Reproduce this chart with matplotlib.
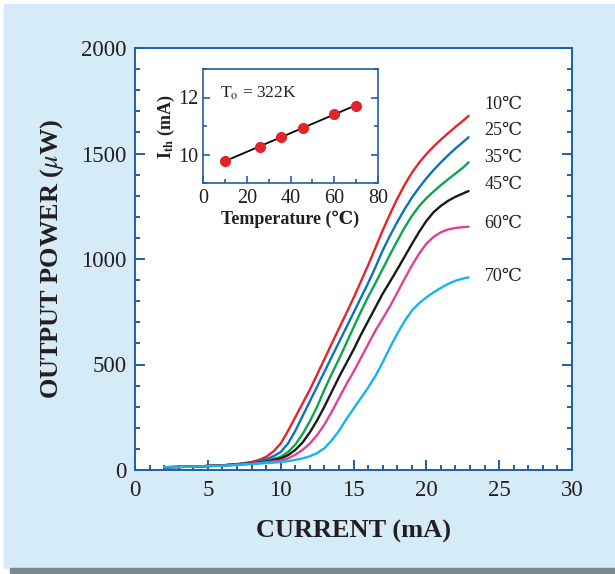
import numpy as np
import matplotlib
matplotlib.use('Agg')
import matplotlib.pyplot as plt
from matplotlib.patches import Rectangle
from matplotlib.ticker import MultipleLocator

# ---- data ----
temps = ['10℃', '25℃', '35℃', '45℃', '60℃', '70℃']
colors = ['#e3242b', '#0a72c2', '#0aa550', '#1a1a1a', '#e0409a', '#14b4ec']

# drive current (mA), shared by all curves
current = [2, 4, 6, 7, 8, 8.5, 9, 9.5, 10, 10.5, 11, 11.5, 12, 12.5, 13, 13.5, 14, 14.5,
           15, 15.5, 16, 16.5, 17, 17.5, 18, 18.5, 19, 19.5, 20, 20.5, 21, 21.5, 22, 22.5, 22.9]

# output power (uW)
pow_10 = [13, 16, 22, 28, 38, 47, 62, 88, 125, 185, 250, 315, 380, 452, 525, 598, 670, 742,
          815, 892, 970, 1052, 1135, 1212, 1285, 1350, 1408, 1456, 1497, 1533, 1566, 1596, 1626, 1654, 1678]
pow_25 = [13, 16, 22, 27, 34, 40, 50, 65, 85, 125, 185, 255, 325, 395, 465, 535, 605, 675,
          745, 815, 885, 960, 1040, 1110, 1175, 1235, 1290, 1338, 1382, 1422, 1458, 1492, 1524, 1553, 1577]
pow_35 = [13, 16, 22, 27, 32, 37, 42, 52, 62, 85, 120, 170, 230, 300, 380, 455, 525, 600,
          675, 750, 820, 885, 952, 1020, 1085, 1148, 1203, 1250, 1288, 1320, 1350, 1378, 1405, 1432, 1458]
pow_45 = [13, 16, 22, 26, 31, 35, 40, 47, 55, 70, 95, 130, 178, 235, 300, 370, 440, 505,
          570, 640, 705, 770, 835, 892, 950, 1010, 1070, 1128, 1180, 1222, 1252, 1276, 1295, 1310, 1322]
pow_60 = [13, 16, 21, 25, 30, 33, 37, 41, 45, 55, 72, 95, 125, 165, 215, 275, 340, 405,
          465, 530, 595, 660, 717, 775, 840, 905, 968, 1025, 1072, 1105, 1127, 1140, 1147, 1151, 1153]
pow_70 = [13, 16, 20, 24, 28, 30, 33, 35, 38, 42, 48, 55, 65, 80, 103, 140, 185, 240,
          290, 340, 390, 445, 510, 580, 645, 705, 755, 790, 818, 842, 863, 882, 897, 907, 913]

powers = [pow_10, pow_25, pow_35, pow_45, pow_60, pow_70]

# inset: threshold current vs temperature
t_inset = [10, 26, 35.5, 45.5, 60, 70]
ith_inset = [9.76, 10.28, 10.62, 10.92, 11.43, 11.71]

label_y = [1730, 1607, 1483, 1351, 1166, 915]

plt.rcParams['font.family'] = ['Liberation Serif', 'DejaVu Serif', 'Noto Sans CJK JP']
plt.rcParams['mathtext.fontset'] = 'stix'

spine_c = '#1f5fa8'
text_c = '#231f20'


def style_axes(ax, lw, maj, mnr, size):
    for s in ax.spines.values():
        s.set_color(spine_c)
        s.set_linewidth(lw)
    ax.tick_params(which='both', direction='in', colors=spine_c, labelcolor=text_c,
                   top=False, right=True, labelsize=size, width=lw)
    ax.tick_params(which='major', length=maj)
    ax.tick_params(which='minor', length=mnr)


def main():
    fig = plt.figure(figsize=(6.15, 5.74), dpi=100)
    fig.patch.set_facecolor('white')
    fig.patches.append(Rectangle((4 / 615, 6 / 574), 611 / 615, 564 / 574,
                                 transform=fig.transFigure, color='#d5ebf8', zorder=-10))
    fig.patches.append(Rectangle((10 / 615, 1 / 574), 605 / 615, 5 / 574,
                                 transform=fig.transFigure, color='#7c8a90', zorder=-10))

    ax = fig.add_axes([135 / 615, 104 / 574, 437 / 615, 422 / 574])
    ax.set_facecolor('white')
    for pw, c in zip(powers, colors):
        ax.plot(current, pw, color=c, lw=1.7, solid_capstyle='round', solid_joinstyle='round')
    for t, y in zip(temps, label_y):
        ax.text(24.0, y, t, fontsize=13, color=text_c, va='center', ha='left')

    ax.set_xlim(0, 30)
    ax.set_ylim(0, 2000)
    ax.xaxis.set_major_locator(MultipleLocator(5))
    ax.xaxis.set_minor_locator(MultipleLocator(1))
    ax.yaxis.set_major_locator(MultipleLocator(500))
    ax.yaxis.set_minor_locator(MultipleLocator(100))
    style_axes(ax, 1.4, 7, 3.5, 16.5)
    ax.tick_params(axis='x', pad=7)
    ax.tick_params(axis='y', pad=6)
    ax.set_xlabel('CURRENT (mA)', fontsize=19, fontweight='bold', color=text_c, labelpad=14)
    ax.set_ylabel(r'OUTPUT POWER ($\mu$W)', fontsize=19, fontweight='bold', color=text_c, labelpad=11)

    # inset
    ins = fig.add_axes([203 / 615, 391 / 574, 175 / 615, 114 / 574])
    ins.plot(t_inset, ith_inset, 'o', color='#e3242b', ms=7, zorder=3)
    k, b = np.polyfit(t_inset, ith_inset, 1)
    tt = np.array([min(t_inset), max(t_inset)])
    ins.plot(tt, k * tt + b, color='black', lw=1.3, zorder=2)
    ins.text(8, 12.15, r'T$_\mathrm{o}$ = 322K', fontsize=12.5, color=text_c, va='center')
    ins.set_xlim(0, 80)
    ins.set_ylim(9, 13)
    ins.xaxis.set_major_locator(MultipleLocator(20))
    ins.xaxis.set_minor_locator(MultipleLocator(10))
    ins.yaxis.set_major_locator(MultipleLocator(2))
    ins.yaxis.set_minor_locator(MultipleLocator(1))
    style_axes(ins, 1.2, 5, 3, 14.5)
    ins.tick_params(axis='x', pad=4)
    ins.tick_params(axis='y', pad=3)
    ins.set_xlabel('Temperature (℃)', fontsize=13, fontweight='bold', color=text_c, labelpad=2)
    ins.set_ylabel(r'I$_{\mathbf{th}}$ (mA)', fontsize=13, fontweight='bold', color=text_c, labelpad=1)

    fig.savefig('out.png', dpi=100, facecolor=fig.get_facecolor())


if __name__ == '__main__':
    main()
